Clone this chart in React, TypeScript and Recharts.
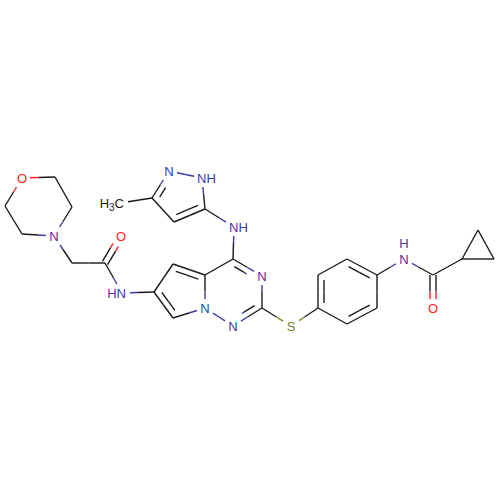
import React from 'react';
import { LineChart, Line, XAxis, YAxis } from 'recharts';

// atom id, x, y, element (y runs downward)
const atoms: [string, number, number, string][] = [
  ['o1', 22, 178, 'O'], ['c2', 55, 177, 'C'], ['c3', 72, 207, 'C'], ['n4', 54, 236, 'N'],
  ['c5', 22, 234, 'C'], ['c6', 5, 206, 'C'], ['c7', 72, 263, 'C'], ['c8', 105, 263, 'C'],
  ['o9', 121, 236, 'O'], ['n10', 122, 293, 'N'], ['c11', 154, 292, 'C'], ['c12', 173, 264, 'C'],
  ['c13', 205, 275, 'C'], ['n14', 205, 308, 'N'], ['c15', 173, 318, 'C'], ['c16', 233, 259, 'C'],
  ['n17', 262, 276, 'N'], ['c18', 262, 308, 'C'], ['n19', 233, 326, 'N'], ['s20', 291, 326, 'S'],
  ['c21', 318, 308, 'C'], ['c22', 318, 275, 'C'], ['c23', 347, 259, 'C'], ['c24', 377, 275, 'C'],
  ['c25', 377, 308, 'C'], ['c26', 347, 324, 'C'], ['n27', 404, 259, 'N'], ['c28', 433, 275, 'C'],
  ['o29', 433, 308, 'O'], ['c30', 462, 259, 'C'], ['c31', 478, 230, 'C'], ['c32', 494, 259, 'C'],
  ['n33', 234, 227, 'N'], ['c34', 205, 209, 'C'], ['c35', 174, 222, 'C'], ['c36', 152, 198, 'C'],
  ['n37', 169, 171, 'N'], ['n38', 202, 178, 'N'], ['c39', 120, 203, 'M'],
];

// from, to, third field: none = single, 'both' = centred double, atom id = inner double towards it
const bonds: [string, string, string?][] = [
  ['o1', 'c2'], ['c2', 'c3'], ['c3', 'n4'], ['n4', 'c5'], ['c5', 'c6'], ['c6', 'o1'],
  ['n4', 'c7'], ['c7', 'c8'], ['c8', 'o9', 'both'], ['c8', 'n10'], ['n10', 'c11'],
  ['c11', 'c12'], ['c12', 'c13', 'n14'], ['c13', 'n14'], ['n14', 'c15'], ['c15', 'c11', 'c13'],
  ['c13', 'c16'], ['c16', 'n17', 'c18'], ['n17', 'c18'], ['c18', 'n19', 'c16'], ['n19', 'n14'],
  ['c18', 's20'], ['s20', 'c21'], ['c21', 'c22', 'c24'], ['c22', 'c23'], ['c23', 'c24', 'c26'],
  ['c24', 'c25'], ['c25', 'c26', 'c22'], ['c26', 'c21'], ['c24', 'n27'], ['n27', 'c28'],
  ['c28', 'o29', 'both'], ['c28', 'c30'], ['c30', 'c31'], ['c31', 'c32'], ['c32', 'c30'],
  ['c16', 'n33'], ['n33', 'c34'], ['c34', 'c35', 'n37'], ['c35', 'c36'], ['c36', 'n37', 'c34'],
  ['n37', 'n38'], ['n38', 'c34'], ['c36', 'c39'],
];

// text, x, y, colour key, anchor
const labels: [string, number, number, string, string][] = [
  ['O', 22, 178, 'O', 'middle'], ['N', 54, 236, 'N', 'middle'], ['O', 121, 236, 'O', 'middle'],
  ['HN', 126, 293, 'N', 'end'], ['N', 262, 276, 'N', 'middle'], ['N', 233, 326, 'N', 'middle'],
  ['N', 205, 308, 'N', 'middle'], ['S', 291, 326, 'S', 'middle'], ['N', 404, 259, 'N', 'middle'],
  ['H', 404, 243, 'N', 'middle'], ['O', 433, 308, 'O', 'middle'], ['NH', 229, 227, 'N', 'start'],
  ['N', 169, 171, 'N', 'middle'], ['NH', 197, 178, 'N', 'start'], ['H3C', 124, 203, 'M', 'end'],
];

const colors: Record<string, string> = { C: '#1a1a1a', M: '#1a1a1a', N: '#3a3aa6', O: '#ff2020', S: '#80801a' };

const atomMap = Object.fromEntries(atoms.map((a) => [a[0], a]));
const isLabelled = (e: string) => e !== 'C';

// cut a bond end back to the box around a label
const trim = (e: string, dx: number, dy: number) => {
  if (!isLabelled(e)) return 0;
  return Math.min(8 / Math.abs(dx || 0.001), 9 / Math.abs(dy || 0.001));
};

const pieces = (x1: number, y1: number, x2: number, y2: number, e1: string, e2: string) => {
  const dx = x2 - x1;
  const dy = y2 - y1;
  const t1 = trim(e1, dx, dy);
  const t2 = 1 - trim(e2, dx, dy);
  const at = (t: number) => ({ x: x1 + dx * t, y: y1 + dy * t });
  return [
    { color: colors[e1], points: [at(t1), at(0.5)] },
    { color: colors[e2], points: [at(0.5), at(t2)] },
  ];
};

const segments = bonds.flatMap(([a, b, kind]) => {
  const [, x1, y1, e1] = atomMap[a];
  const [, x2, y2, e2] = atomMap[b];
  const len = Math.hypot(x2 - x1, y2 - y1);
  const nx = -(y2 - y1) / len;
  const ny = (x2 - x1) / len;
  if (!kind) return pieces(x1, y1, x2, y2, e1, e2);
  if (kind === 'both') {
    return [
      ...pieces(x1 + nx * 3, y1 + ny * 3, x2 + nx * 3, y2 + ny * 3, e1, e2),
      ...pieces(x1 - nx * 3, y1 - ny * 3, x2 - nx * 3, y2 - ny * 3, e1, e2),
    ];
  }
  const [, cx, cy] = atomMap[kind];
  const side = (cx - x1) * nx + (cy - y1) * ny > 0 ? 1 : -1;
  const ux = (x2 - x1) / len;
  const uy = (y2 - y1) / len;
  const gap = 6;
  const inset = 5;
  return [
    ...pieces(x1, y1, x2, y2, e1, e2),
    ...pieces(
      x1 + nx * side * gap + ux * inset, y1 + ny * side * gap + uy * inset,
      x2 + nx * side * gap - ux * inset, y2 + ny * side * gap - uy * inset,
      e1, e2,
    ),
  ];
});

const labelData = labels.map(([text, x, y, color, anchor]) => ({ text, x, y, color, anchor }));

const renderLabel = (props: any) => {
  const { cx, cy, payload, index } = props;
  const common = {
    x: cx, y: cy, dy: 5, textAnchor: payload.anchor, fill: colors[payload.color],
    fontFamily: 'Liberation Sans', fontSize: 13,
  };
  if (payload.text === 'H3C') {
    return (
      <text key={index} {...common}>
        H<tspan fontSize={10} dy={3}>3</tspan><tspan dy={-3}>C</tspan>
      </text>
    );
  }
  return <text key={index} {...common}>{payload.text}</text>;
};

export default function App() {
  return (
    <div style={{ position: 'absolute', left: 0, top: 0, width: 500, height: 500, background: '#fff' }}>
      <LineChart width={500} height={500} margin={{ top: 0, right: 0, bottom: 0, left: 0 }}>
        <XAxis type="number" dataKey="x" domain={[0, 500]} hide allowDataOverflow />
        <YAxis type="number" domain={[0, 500]} reversed hide allowDataOverflow />
        {segments.map((s, i) => (
          <Line
            key={i}
            data={s.points}
            dataKey="y"
            stroke={s.color}
            strokeWidth={1.4}
            dot={false}
            activeDot={false}
            legendType="none"
            isAnimationActive={false}
          />
        ))}
        <Line
          data={labelData}
          dataKey="y"
          stroke="none"
          dot={renderLabel}
          activeDot={false}
          legendType="none"
          isAnimationActive={false}
        />
      </LineChart>
    </div>
  );
}
